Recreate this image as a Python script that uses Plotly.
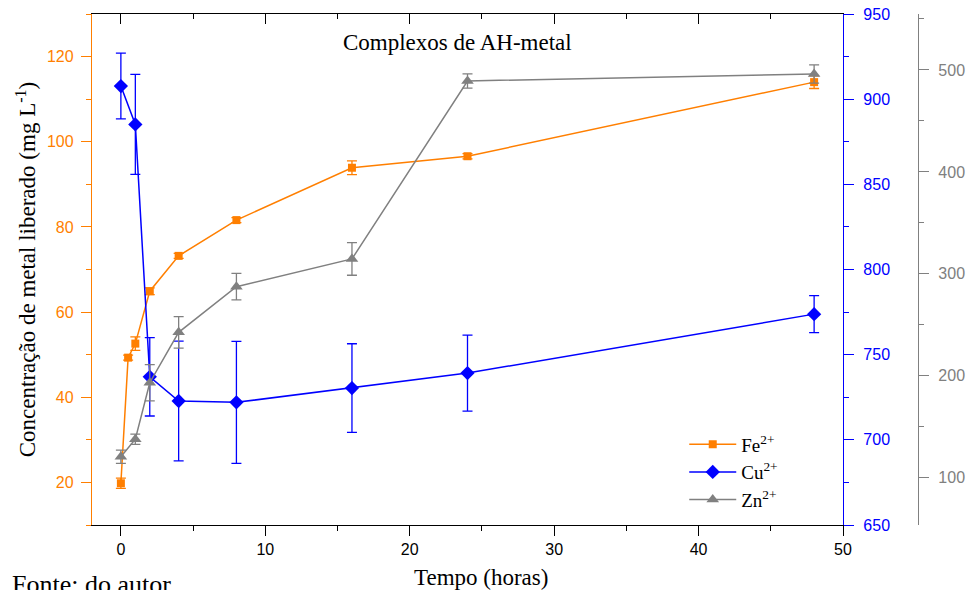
import plotly.graph_objects as go

# ---- data ----
tempo = [0, 0.5, 1, 2, 4, 8, 16, 24, 48]
fe = [19.8, 49.3, 52.6, 64.9, 73.2, 81.6, 93.9, 96.6, 114.0]
fe_err = [1.2, 0.6, 1.6, 0.8, 0.6, 0.6, 1.6, 0.6, 1.5]

tempo_cu = [0, 1, 2, 4, 8, 16, 24, 48]
cu = [907.7, 885.2, 737.0, 722.8, 722.0, 730.4, 739.2, 773.8]
cu_err = [19.3, 29.4, 23.0, 35.2, 35.8, 26.0, 22.3, 10.9]

tempo_zn = [0, 1, 2, 4, 8, 16, 24, 48]
zn = [120.6, 137.7, 193.2, 242.6, 287.4, 314.6, 489.2, 496.0]
zn_err = [6.5, 5.0, 17.8, 15.5, 13.0, 16.0, 7.0, 9.0]

ORANGE = "#FF7F00"
BLUE = "#0000FF"
GRAY = "#808080"
SERIF = "Liberation Serif, Times New Roman, serif"
SANS = "Liberation Sans, Arial, sans-serif"

fig = go.Figure()

fig.add_trace(go.Scatter(
    x=tempo, y=fe, name="Fe<sup>2+</sup>", mode="lines+markers",
    line=dict(color=ORANGE, width=1.5),
    marker=dict(symbol="square", size=8, color=ORANGE),
    error_y=dict(type="data", array=fe_err, color=ORANGE, thickness=1.3, width=5),
    xaxis="x", yaxis="y"))

fig.add_trace(go.Scatter(
    x=tempo_cu, y=cu, name="Cu<sup>2+</sup>", mode="lines+markers",
    line=dict(color=BLUE, width=1.5),
    marker=dict(symbol="diamond", size=11, color=BLUE),
    error_y=dict(type="data", array=cu_err, color=BLUE, thickness=1.3, width=5),
    xaxis="x", yaxis="y2"))

fig.add_trace(go.Scatter(
    x=tempo_zn, y=zn, name="Zn<sup>2+</sup>", mode="lines+markers",
    line=dict(color=GRAY, width=1.5),
    marker=dict(symbol="triangle-up", size=11, color=GRAY),
    error_y=dict(type="data", array=zn_err, color=GRAY, thickness=1.3, width=5),
    xaxis="x", yaxis="y3"))

# dummy trace for top axis
fig.add_trace(go.Scatter(x=[None], y=[None], xaxis="x2", yaxis="y",
                         showlegend=False, hoverinfo="skip"))

dom_end = 751 / 826

fig.update_layout(
    width=968, height=590,
    margin=dict(l=92, r=50, t=14, b=65, autoexpand=False),
    plot_bgcolor="white", paper_bgcolor="white",
    showlegend=True,
    legend=dict(x=0.717, y=0.195, xanchor="left", yanchor="top",
                font=dict(family=SERIF, size=19, color="black"),
                bgcolor="rgba(0,0,0,0)", tracegroupgap=0, itemwidth=47),
    xaxis=dict(domain=[0, dom_end], range=[-2, 50], dtick=10, tick0=0, automargin=False,
               showline=True, linecolor="black", linewidth=1.3,
               ticks="outside", ticklen=10, tickwidth=1.3, tickcolor="black",
               minor=dict(dtick=5, tick0=0, ticks="outside", ticklen=5, tickcolor="black", tickwidth=1.3),
               showgrid=False, zeroline=False,
               tickfont=dict(family=SANS, size=16, color="black")),
    xaxis2=dict(overlaying="x", side="top", anchor="y", range=[-2, 50], dtick=10, tick0=0,
                automargin=False,
                showline=True, linecolor="black", linewidth=1.3,
                ticks="inside", ticklen=10, tickwidth=1.3, tickcolor="black",
                minor=dict(dtick=5, tick0=0, ticks="inside", ticklen=5, tickcolor="black", tickwidth=1.3),
                showticklabels=False, showgrid=False, zeroline=False),
    yaxis=dict(range=[10, 130], dtick=20, tick0=0, automargin=False,
               showline=True, linecolor=ORANGE, linewidth=1.3,
               ticks="outside", ticklen=10, tickwidth=1.3, tickcolor=ORANGE,
               minor=dict(dtick=10, tick0=0, ticks="outside", ticklen=5, tickcolor=ORANGE, tickwidth=1.3),
               showgrid=False, zeroline=False, ticklabelstandoff=4,
               tickfont=dict(family=SANS, size=16, color=ORANGE),
               title=dict(text="Concentração de metal liberado (mg L<sup>-1</sup>)",
                          font=dict(family=SERIF, size=23, color="black"), standoff=4)),
    yaxis2=dict(overlaying="y", side="right", anchor="x", range=[650, 950], dtick=50, tick0=0,
                automargin=False,
                showline=True, linecolor=BLUE, linewidth=1.3,
                ticks="outside", ticklen=10, tickwidth=1.3, tickcolor=BLUE,
                minor=dict(dtick=25, tick0=0, ticks="outside", ticklen=5, tickcolor=BLUE, tickwidth=1.3),
                showgrid=False, zeroline=False, ticklabelstandoff=6,
                tickfont=dict(family=SANS, size=16, color=BLUE)),
    yaxis3=dict(overlaying="y", side="right", anchor="free", position=1.0,
                range=[53.6, 554.9], dtick=100, tick0=0, automargin=False,
                showline=True, linecolor=GRAY, linewidth=1.3,
                ticks="outside", ticklen=10, tickwidth=1.3, tickcolor=GRAY,
                minor=dict(dtick=50, tick0=0, ticks="outside", ticklen=5, tickcolor=GRAY, tickwidth=1.3),
                showgrid=False, zeroline=False, ticklabelstandoff=6,
                tickfont=dict(family=SANS, size=16, color=GRAY)),
    annotations=[
        dict(text="Complexos de AH-metal", xref="paper", yref="paper",
             x=(457 - 92) / 826, y=(525 - 42) / 511, xanchor="center", yanchor="middle",
             showarrow=False, font=dict(family=SERIF, size=23, color="black")),
        dict(text="Tempo (horas)", xref="paper", yref="paper",
             x=(481 - 92) / 826, y=-(577 - 525) / 511, xanchor="center", yanchor="middle",
             showarrow=False, font=dict(family=SERIF, size=23, color="black")),
        dict(text="Fonte: do autor", xref="paper", yref="paper",
             x=-(92 - 10) / 826, y=-(584 - 525) / 511, xanchor="left", yanchor="middle",
             showarrow=False, font=dict(family=SERIF, size=26, color="black")),
    ],
)

fig.write_html("out.html")
